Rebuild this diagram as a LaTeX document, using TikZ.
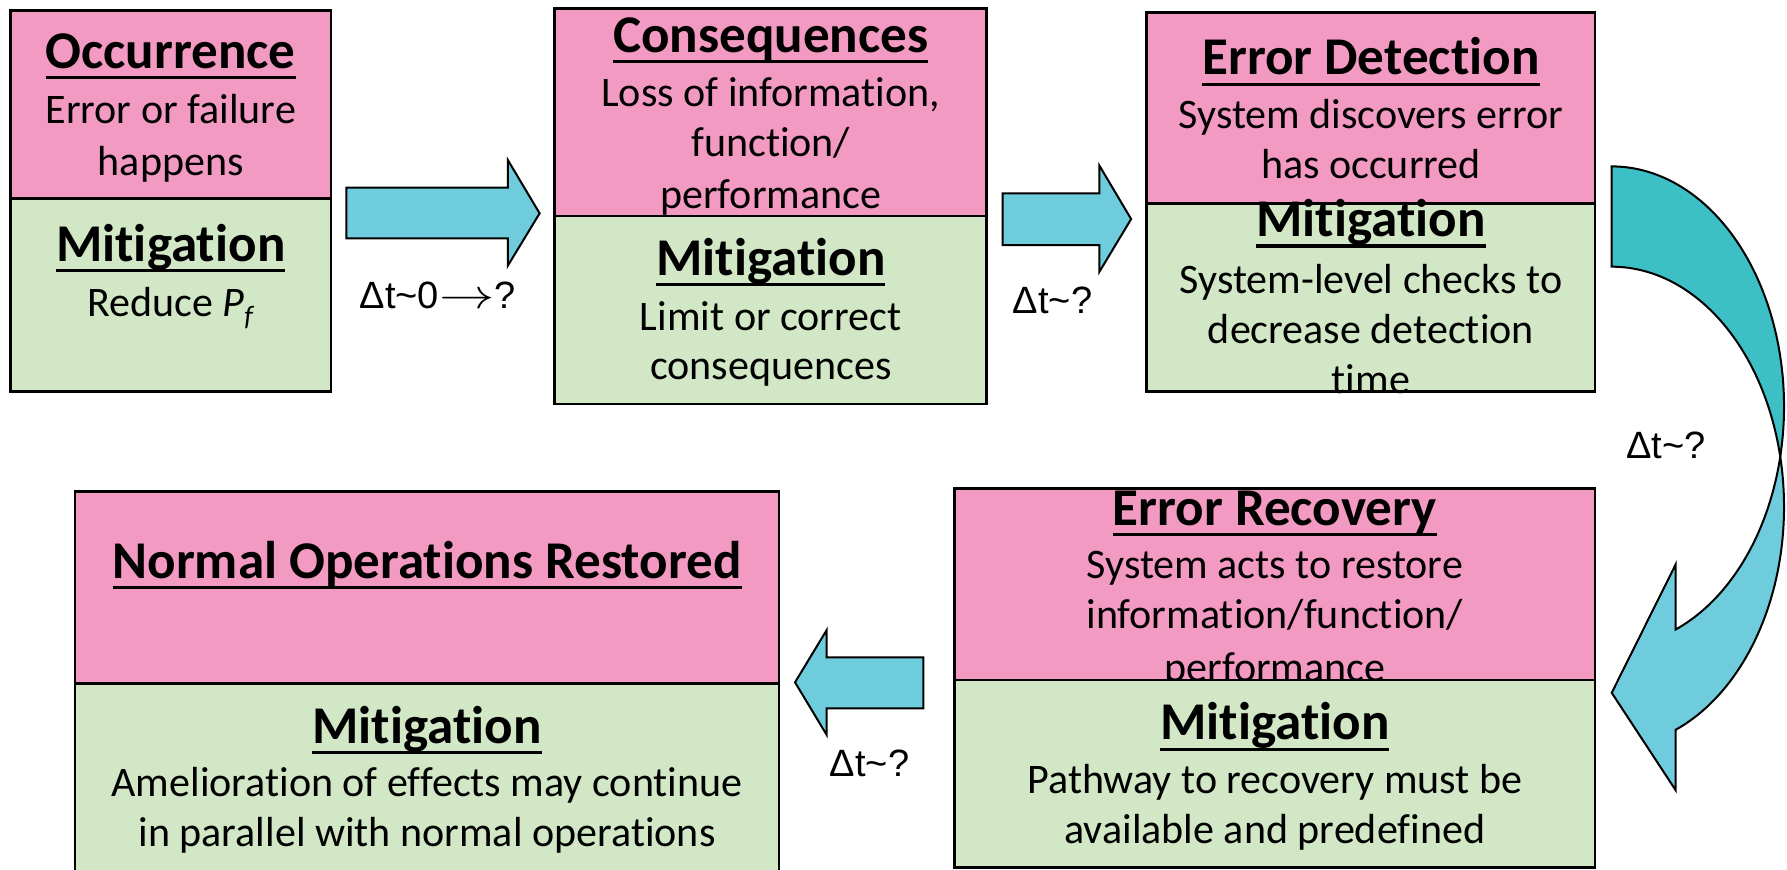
\documentclass[tikz,border=0pt]{standalone}
\usepackage{fontspec}
\setmainfont{Carlito}[RawFeature={-liga;-clig;-calt}]
\newfontfamily\lblfont{Liberation Sans}
\definecolor{boxpink}{HTML}{F39AC2}
\definecolor{boxgreen}{HTML}{D1E7C5}
\definecolor{arrowcyan}{HTML}{6ECCDC}
\definecolor{arrowteal}{HTML}{3CBFC5}
\newsavebox\ulbox
% underlined heading word
\newcommand\ulword[1]{\sbox\ulbox{#1}\rlap{\rule[-0.19cm]{\wd\ulbox}{0.054cm}}\usebox\ulbox}
\tikzset{
  pinkpart/.style={draw=black, line width=1.4pt, fill=boxpink},
  greenpart/.style={draw=black, line width=1.4pt, fill=boxgreen},
  ttl/.style={anchor=base, inner sep=0pt, font=\fontsize{26.5}{31}\selectfont\bfseries},
  txt/.style={anchor=base, inner sep=0pt, font=\fontsize{21}{25.5}\selectfont},
  dtlabel/.style={anchor=base, inner sep=0pt, font=\lblfont\fontsize{19}{22}\selectfont},
  blockarrow/.style={draw=black, line width=1pt, fill=arrowcyan, line join=miter},
  curveback/.style={draw=black, line width=1pt, fill=arrowteal, line join=miter},
  curvefront/.style={draw=black, line width=1pt, fill=arrowcyan, line join=miter},
}
\begin{document}
\begin{tikzpicture}[x=0.02cm, y=-0.02cm]
\clip (0,0) rectangle (1568,763);
\fill[white] (0,0) rectangle (1568,763);

% ---- Occurrence ----
\draw[pinkpart] (9.1,9.1) rectangle (290.5,174);
\node[ttl] (occ-title) at (149.8,60) {\ulword{Occurrence}};
\node[txt] (occ-l1) at (149.8,108.8) {Error or failure};
\node[txt] (occ-l2) at (149.8,153.6) {happens};
\draw[greenpart] (9.1,174) rectangle (290.5,343.7);
\node[ttl] (occ-mit) at (149.8,229.6) {\ulword{Mitigation}};
\node[txt] (occ-m1) at (149.8,277.9) {Reduce \textit{P}\raisebox{-0.22em}{\fontsize{14}{14}\selectfont\textit{f}}};

% ---- Consequences ----
\draw[pinkpart] (486.7,7.3) rectangle (865.8,189.5);
\node[ttl] (con-title) at (676.3,46.2) {\ulword{Consequences}};
\node[txt] (con-l1) at (676.3,93.6) {Loss of information,};
\node[txt] (con-l2) at (676.3,137.5) {function/};
\node[txt] (con-l3) at (676.3,182.8) {performance};
\draw[greenpart] (486.7,189.5) rectangle (865.8,354.5);
\node[ttl] (con-mit) at (676.3,241.3) {\ulword{Mitigation}};
\node[txt] (con-m1) at (676.3,289.6) {Limit or correct};
\node[txt] (con-m2) at (676.3,333.4) {consequences};

% ---- Error Detection ----
\draw[pinkpart] (1006.2,10.8) rectangle (1399.5,178.4);
\node[ttl] (det-title) at (1202.9,65.8) {\ulword{Error Detection}};
\node[txt] (det-l1) at (1202.9,112.6) {System discovers error};
\node[txt] (det-l2) at (1202.9,156.5) {has occurred};
\draw[greenpart] (1006.2,178.4) rectangle (1399.5,343.7);
\node[ttl] (det-mit) at (1202.9,207.7) {\ulword{Mitigation}};
\node[txt] (det-m1) at (1202.9,257.4) {System-level checks to};
\node[txt] (det-m2) at (1202.9,301.2) {decrease detection};
\node[txt] (det-m3) at (1202.9,345.1) {time};

% ---- Error Recovery ----
\draw[pinkpart] (837.6,428.5) rectangle (1399.5,596.7);
\node[ttl] (rec-title) at (1118.6,460.7) {\ulword{Error Recovery}};
\node[txt] (rec-l1) at (1118.6,507.5) {System acts to restore};
\node[txt] (rec-l2) at (1118.6,551.3) {information/function/};
\node[txt] (rec-l3) at (1118.6,598) {performance};
\draw[greenpart] (837.6,596.7) rectangle (1399.5,761);
\node[ttl] (rec-mit) at (1118.6,649.3) {\ulword{Mitigation}};
\node[txt] (rec-m1) at (1118.6,696.1) {Pathway to recovery must be};
\node[txt] (rec-m2) at (1118.6,740) {available and predefined};

% ---- Normal Operations Restored ----
\draw[pinkpart] (65.8,431.4) rectangle (683.6,599.6);
\node[ttl] (nor-title) at (374.7,507.5) {\ulword{Normal Operations Restored}};
\draw[greenpart] (65.8,599.6) rectangle (683.6,800);
\node[ttl] (nor-mit) at (374.7,652.2) {\ulword{Mitigation}};
\node[txt] (nor-m1) at (374.7,699) {Amelioration of effects may continue};
\node[txt] (nor-m2) at (374.7,742.9) {in parallel with normal operations};

% ---- straight block arrows ----
\draw[blockarrow] (303.9,164.7) -- (445.6,164.7) -- (445.6,140.4) -- (473.5,187.2)
  -- (445.6,233.1) -- (445.6,209.1) -- (303.9,209.1) -- cycle;
\draw[blockarrow] (879.7,169.6) -- (964.7,169.6) -- (964.7,145.4) -- (992.5,192.2)
  -- (964.7,238.4) -- (964.7,215) -- (879.7,215) -- cycle;
\draw[blockarrow] (810.2,576.8) -- (725.4,576.8) -- (725.4,552.8) -- (697.6,598.7)
  -- (725.4,644.9) -- (725.4,621.5) -- (810.2,621.5) -- cycle;

% ---- curved arrow: band between two shifted half-ellipses ----
\draw[curveback]
  plot[domain=-90:12.05, samples=60] ({1414.2+151.2*cos(\x)},{356.7+210.7*sin(\x)})
  -- plot[domain=-12.05:-90, samples=60] ({1414.2+151.2*cos(\x)},{444.7+210.7*sin(\x)})
  -- cycle;
\draw[curvefront]
  plot[domain=12.05:68.2, samples=50] ({1414.2+151.2*cos(\x)},{356.7+210.7*sin(\x)})
  -- (1470.3,495.2) -- (1414.2,607.9) -- (1470.3,693.4)
  -- plot[domain=68.2:-12.05, samples=50] ({1414.2+151.2*cos(\x)},{444.7+210.7*sin(\x)})
  -- cycle;

% ---- time-step labels ----
\node[dtlabel] (dt1) at (384,270.5) {Δt\textasciitilde 0\scalebox{1.6}[1.2]{$\mathsurround=0pt\rightarrow$}?};
\node[dtlabel] (dt2) at (923.5,275) {Δt\textasciitilde ?};
\node[dtlabel] (dt3) at (1462,402.5) {Δt\textasciitilde ?};
\node[dtlabel] (dt4) at (763,681.5) {Δt\textasciitilde ?};
\end{tikzpicture}
\end{document}
